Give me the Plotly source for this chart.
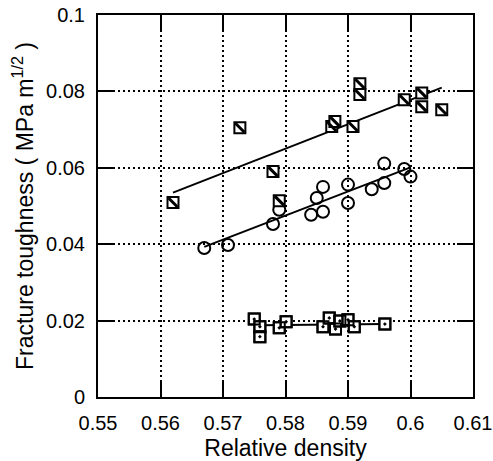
import plotly.graph_objects as go

# Hatched squares
hatch_x = [0.5620, 0.5727, 0.5780, 0.5790, 0.5874, 0.5879, 0.5908, 0.5919, 0.5919, 0.5990, 0.6018, 0.6018, 0.6050]
hatch_y = [0.0509, 0.0705, 0.0590, 0.0514, 0.0708, 0.0721, 0.0708, 0.0820, 0.0792, 0.0778, 0.0796, 0.0760, 0.0752]
hatch_fit_x = [0.5620, 0.6050]
hatch_fit_y = [0.0535, 0.0810]

# Open circles
circ_x = [0.5670, 0.5708, 0.5780, 0.5790, 0.5841, 0.5850, 0.5860, 0.5860, 0.5900, 0.5900, 0.5938, 0.5958, 0.5958, 0.5990, 0.6000]
circ_y = [0.0390, 0.0398, 0.0453, 0.0490, 0.0477, 0.0521, 0.0550, 0.0485, 0.0556, 0.0508, 0.0544, 0.0560, 0.0611, 0.0597, 0.0577]
circ_fit_x = [0.5670, 0.6000]
circ_fit_y = [0.0393, 0.0601]

# Open squares with dot
sq_x = [0.5750, 0.5759, 0.5759, 0.5790, 0.5801, 0.5860, 0.5870, 0.5880, 0.5887, 0.5900, 0.5910, 0.5959]
sq_y = [0.0204, 0.0184, 0.0158, 0.0181, 0.0197, 0.0184, 0.0207, 0.0178, 0.0199, 0.0202, 0.0184, 0.0191]
sq_fit_x = [0.5759, 0.5959]
sq_fit_y = [0.0188, 0.0191]

x_ticks = [0.55, 0.56, 0.57, 0.58, 0.59, 0.60, 0.61]
x_tick_text = ["0.55", "0.56", "0.57", "0.58", "0.59", "0.6", "0.61"]
y_ticks = [0, 0.02, 0.04, 0.06, 0.08, 0.1]
y_tick_text = ["0", "0.02", "0.04", "0.06", "0.08", "0.1"]

fig = go.Figure()
line_style = dict(color="black", width=2)
for fx, fy in [(hatch_fit_x, hatch_fit_y), (circ_fit_x, circ_fit_y), (sq_fit_x, sq_fit_y)]:
    fig.add_trace(go.Scatter(x=fx, y=fy, mode="lines", line=line_style, showlegend=False))

fig.add_trace(go.Scatter(x=circ_x, y=circ_y, mode="markers", showlegend=False,
                         marker=dict(symbol="circle-open", size=12, color="black", line=dict(width=2))))
fig.add_trace(go.Scatter(x=sq_x, y=sq_y, mode="markers", showlegend=False,
                         marker=dict(symbol="square", size=11, color="white", line=dict(width=2, color="black"))))
fig.add_trace(go.Scatter(x=sq_x, y=sq_y, mode="markers", showlegend=False,
                         marker=dict(symbol="square-open-dot", size=11, color="black", line=dict(width=2))))
fig.add_trace(go.Scatter(x=hatch_x, y=hatch_y, mode="markers", showlegend=False,
                         marker=dict(symbol="square", size=11, color="white", line=dict(width=2, color="black"))))
fig.add_trace(go.Scatter(x=hatch_x, y=hatch_y, mode="markers", showlegend=False,
                         marker=dict(symbol="line-nw", size=9, color="black", line=dict(width=3, color="black"))))

font = dict(family="Arial, Liberation Sans, sans-serif", color="black")
axis_common = dict(showline=True, linecolor="black", linewidth=2, mirror="ticks",
                   ticks="inside", ticklen=16, tickwidth=2, tickcolor="black",
                   showgrid=True, gridcolor="black", griddash="2px,3px", gridwidth=1.5,
                   zeroline=False, automargin=False, tickfont=dict(size=20, **font))

fig.update_xaxes(range=[0.55, 0.61], tickvals=x_ticks, ticktext=x_tick_text,
                 ticklabelstandoff=7,
                 title=dict(text="Relative density", font=dict(size=23, **font), standoff=10),
                 **axis_common)
fig.update_yaxes(range=[0, 0.1], tickvals=y_ticks, ticktext=y_tick_text,
                 ticklabelstandoff=7,
                 title=dict(text="Fracture toughness ( MPa m<sup>1/2</sup> )", font=dict(size=23, **font), standoff=6),
                 **axis_common)

fig.update_layout(width=493, height=461, margin=dict(l=98, r=20, t=15, b=64),
                  plot_bgcolor="white", paper_bgcolor="white", font=font)

fig.write_html("out.html")
